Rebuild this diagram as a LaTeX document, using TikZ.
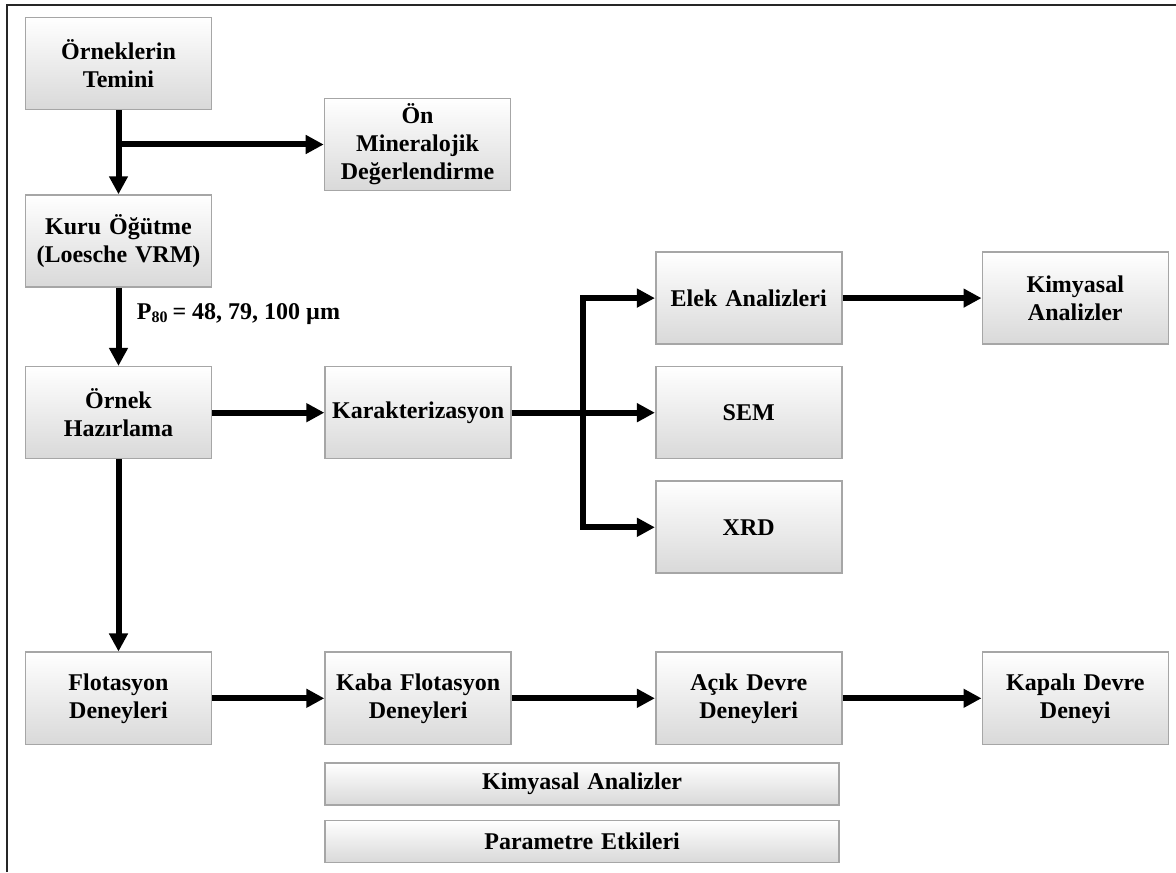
\documentclass[tikz,border=0pt]{standalone}
\usepackage{fontspec}
\setmainfont{Liberation Serif}
\usetikzlibrary{arrows.meta,positioning,calc}

\begin{document}
\begin{tikzpicture}[x=0.5pt, y=0.5pt, font=\bfseries\fontsize{12}{14}\selectfont]

\tikzstyle{block} = [rectangle, draw=black!35, line width=0.8pt, top color=white, middle color=white, bottom color=black!15, text width = 88pt, align = center, inner sep = 2pt, minimum width = 93pt, minimum height = 46pt]

\tikzstyle{wideblock} = [block, text width = 250pt, minimum width = 257pt, minimum height = 21pt]

\tikzstyle{arrow} = [line width = 3pt, -{Triangle[length=9pt, width=9pt]}]

\useasboundingbox (0,0) rectangle (1176,872);

% frame
\draw[line width = 1pt, black!85] (7,0) -- (7,867) -- (1176,867);

% left column
\node [block] (temini) at (118.5,808.5) {Örneklerin\\Temini};
\node [block, below = 42pt of temini] (kuru) {Kuru Öğütme\\(Loesche VRM)};
\node [block, below = 39pt of kuru] (ornek) {Örnek\\Hazırlama};
\node [block, below = 96pt of ornek] (flot) {Flotasyon\\Deneyleri};

\node [block] (mineral) at (417.5,727.5) {Ön\\Mineralojik\\Değerlendirme};

% characterisation
\node [block, right = 56pt of ornek] (karak) {Karakterizasyon};
\node [block, right = 71.5pt of karak] (sem) {SEM};
\node [block, above = 10.5pt of sem] (elek) {Elek Analizleri};
\node [block, below = 10.5pt of sem] (xrd) {XRD};
\node [block, right = 69.5pt of elek] (kimya) {Kimyasal\\Analizler};

% flotation
\node [block, right = 56pt of flot] (kaba) {Kaba Flotasyon\\Deneyleri};
\node [block, right = 71.5pt of kaba] (acik) {Açık Devre\\Deneyleri};
\node [block, right = 69.5pt of acik] (kapali) {Kapalı Devre\\Deneyi};
\node [wideblock, below right = 8.5pt and 0pt of kaba.south west] (kimya_all) {Kimyasal Analizler};
\node [wideblock, below right = 7pt and 0pt of kimya_all.south west] (param) {Parametre Etkileri};

% grain size
\node [anchor = west, inner sep = 1pt] (psize) at ($(kuru.south)!0.5!(ornek.north) + (16,13)$) {P\textsubscript{80}\,= 48, 79, 100 µm};

\coordinate (split) at ($(karak.east)!0.5!(sem.west)$);

\path[arrow] (temini) edge (kuru);
\path[arrow] (temini.south |- mineral.west) edge (mineral.west);
\path[arrow] (kuru) edge (ornek);
\path[arrow] (ornek) edge (karak);
\path[arrow] (ornek) edge (flot);

\path[arrow] (karak.east) edge (sem.west);
\draw[arrow] (split) |- (elek.west);
\draw[arrow] (split) |- (xrd.west);
\path[arrow] (elek) edge (kimya);

\path[arrow] (flot) edge (kaba);
\path[arrow] (kaba) edge (acik);
\path[arrow] (acik) edge (kapali);

\end{tikzpicture}
\end{document}
